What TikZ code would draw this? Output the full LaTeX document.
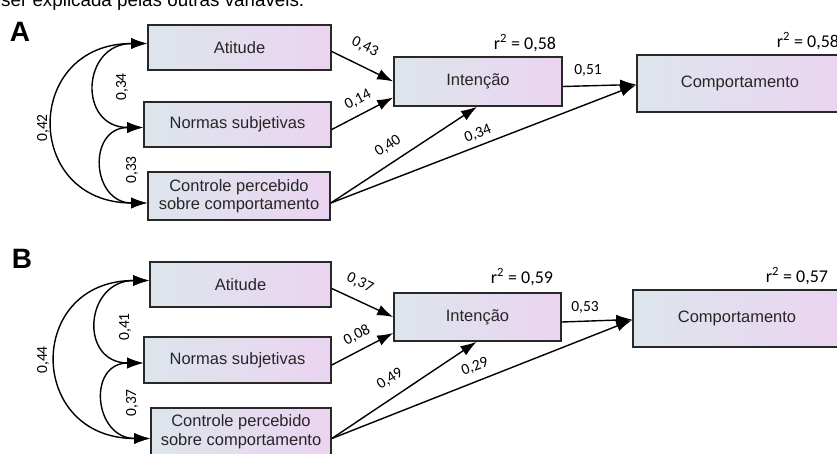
\documentclass[tikz,border=0pt]{standalone}
\usepackage{fontspec}
\setmainfont{Liberation Sans}
\newfontfamily\calib{Carlito}
\usetikzlibrary{arrows.meta}
\definecolor{boxl}{RGB}{221,229,236}
\definecolor{boxr}{RGB}{235,212,241}
\definecolor{edge}{RGB}{40,40,40}
\newcommand\rsq[1]{r\textsuperscript{2} = #1}
\tikzset{
    box/.style={draw=edge,line width=1.6pt,left color=boxl,right color=boxr,inner sep=0pt,
        align=center,text=black!85,font=\fontsize{16.5}{18.5}\selectfont},
    pth/.style={-{Latex[length=16pt,width=11pt]},line width=1.4pt},
    corr/.style={{Latex[length=16pt,width=11pt]}-{Latex[length=16pt,width=11pt]},line width=1.4pt},
    coef/.style={font=\calib\fontsize{15.5}{17}\selectfont,inner sep=0pt},
    rlab/.style={font=\calib\fontsize{18}{20}\selectfont,inner sep=0pt},
    panel/.style={font=\bfseries\fontsize{28}{30}\selectfont,inner sep=0pt},
}

\begin{document}
\begin{tikzpicture}[x=1pt,y=-1pt]
    \useasboundingbox (0,0) rectangle (837,453);
    \clip (0,0) rectangle (837,453);
    \node(topline)[anchor=base west,inner sep=0pt,font=\fontsize{18.8}{21}\selectfont] at (1,6) {ser explicada pelas outras variáveis.};

    % model A
    \node(pA)[panel] at (20,32) {A};
    \node(at1)[box,minimum width=183pt,minimum height=45pt] at (239.5,47.5) {Atitude};
    \node(ns1)[box,minimum width=187pt,minimum height=45pt] at (237.5,124.5) {Normas subjetivas};
    \node(cp1)[box,minimum width=182pt,minimum height=48pt] at (239,196) {Controle percebido\\sobre comportamento};
    \node(in1)[box,minimum width=168pt,minimum height=49pt] at (478,81.5) {Intenção};
    \node(co1)[box,minimum width=206pt,minimum height=57pt] at (740,83.5) {Comportamento};
    \node(r1)[rlab] at (525,43) {\rsq{0,58}};
    \node(r2)[rlab] at (808,41) {\rsq{0,58}};

    \draw[pth] ([yshift=-4pt]at1.east) -- (in1.west);
    \draw[pth] ([yshift=-5pt]ns1.east) -- ([yshift=-16pt]in1.west);
    \draw[pth] ([yshift=-7pt]cp1.east) -- ([xshift=-1pt]in1.south);
    \draw[pth] ([yshift=-7pt]cp1.east) -- ([yshift=-1.5pt]co1.west);
    \draw[pth] ([yshift=-5pt]in1.east) -- ([yshift=-1pt]co1.west);
    \draw[corr] ([yshift=4pt]at1.west) to[out=180,in=180,looseness=2] ([yshift=-3pt]ns1.west);
    \draw[corr] ([yshift=-3pt]ns1.west) to[out=180,in=180,looseness=1.9] ([yshift=-7pt]cp1.west);
    \draw[corr] ([yshift=4pt]at1.west) to[out=180,in=180,looseness=2] ([yshift=-7pt]cp1.west);

    \node(c11)[coef,rotate=-25] at (365,47) {0,43};
    \node(c12)[coef,rotate=27] at (358,100) {0,14};
    \node(c13)[coef,rotate=33] at (388,146) {0,40};
    \node(c14)[coef,rotate=21] at (478,134) {0,34};
    \node(c15)[coef] at (588,70) {0,51};
    \node(k11)[coef,rotate=90] at (122,87) {0,34};
    \node(k12)[coef,rotate=90] at (132,170) {0,33};
    \node(k13)[coef,rotate=90] at (43,128) {0,42};

    % model B
    \node(pB)[panel] at (22,259) {B};
    \node(at2)[box,minimum width=181pt,minimum height=45pt] at (240.5,284.5) {Atitude};
    \node(ns2)[box,minimum width=187pt,minimum height=46pt] at (237.5,360) {Normas subjetivas};
    \node(cp2)[box,minimum width=180pt,minimum height=47pt] at (241,431.5) {Controle percebido\\sobre comportamento};
    \node(in2)[box,minimum width=167pt,minimum height=48pt] at (477.5,317) {Intenção};
    \node(co2)[box,minimum width=208pt,minimum height=57pt] at (737,318.5) {Comportamento};
    \node(r3)[rlab] at (522,277) {\rsq{0,59}};
    \node(r4)[rlab] at (797,276) {\rsq{0,57}};

    \draw[pth] ([yshift=-4pt]at2.east) -- (in2.west);
    \draw[pth] ([yshift=-5pt]ns2.east) -- ([yshift=-16pt]in2.west);
    \draw[pth] ([yshift=-7pt]cp2.east) -- ([xshift=-1pt]in2.south);
    \draw[pth] ([yshift=-7pt]cp2.east) -- ([yshift=-1.5pt]co2.west);
    \draw[pth] ([yshift=-5pt]in2.east) -- ([yshift=-1pt]co2.west);
    \draw[corr] ([yshift=4pt]at2.west) to[out=180,in=180,looseness=2] ([yshift=-3pt]ns2.west);
    \draw[corr] ([yshift=-3pt]ns2.west) to[out=180,in=180,looseness=1.9] ([yshift=-7pt]cp2.west);
    \draw[corr] ([yshift=4pt]at2.west) to[out=180,in=180,looseness=2] ([yshift=-7pt]cp2.west);

    \node(c21)[coef,rotate=-25] at (360,283) {0,37};
    \node(c22)[coef,rotate=27] at (357,335) {0,08};
    \node(c23)[coef,rotate=33] at (390,379) {0,49};
    \node(c24)[coef,rotate=21] at (475,367) {0,29};
    \node(c25)[coef] at (585,307) {0,53};
    \node(k21)[coef,rotate=90] at (125,327) {0,41};
    \node(k22)[coef,rotate=90] at (132,403) {0,37};
    \node(k23)[coef,rotate=90] at (43,360) {0,44};
\end{tikzpicture}
\end{document}
